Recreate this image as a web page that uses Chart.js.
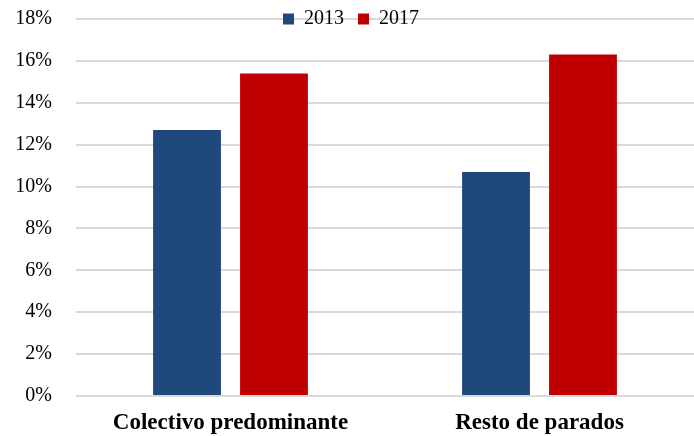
<!DOCTYPE html>
<html>
<head>
<meta charset="utf-8">
<script src="https://cdn.jsdelivr.net/npm/chart.js@4"></script>
<style>
  html, body { margin: 0; padding: 0; background: #fff; }
  #wrap { width: 694px; height: 436px; }
</style>
</head>
<body>
<div id="wrap"><canvas id="chart"></canvas></div>
<script>
// --- data ---
const categories = ['Colectivo predominante', 'Resto de parados'];
const series2013 = [12.7, 10.7];
const series2017 = [15.4, 16.3];
const yTicks = [0, 2, 4, 6, 8, 10, 12, 14, 16, 18];

const C = {
  blue: '#1f497d',
  red:  '#c00000',
  grid: '#d9d9d9',
  ink:  '#000000',
};

const serif = "'Liberation Serif', 'Times New Roman', serif";
const LEGEND_PAD = 14;

// The legend sits over the top of the plot (on the 18% line), so it takes
// no room in the layout; it gets its real box back just before drawing.
const legendOverlay = {
  id: 'legendOverlay',
  beforeLayout(chart){
    const lg = chart.legend;
    if (lg && !lg._overlay){
      const fit = lg.fit.bind(lg);
      lg.fit = function(){ fit(); this._realH = this.height; this.height = 0; };
      lg._overlay = true;
    }
  },
  afterLayout(chart){
    const lg = chart.legend;
    if (lg && lg._realH){
      lg.top = 19 - 10 - LEGEND_PAD;
      lg.height = lg._realH;
      lg.bottom = lg.top + lg._realH;
      lg.left += 4;
      lg.right += 4;
    }
  },
};

new Chart(document.getElementById('chart'), {
  type: 'bar',
  data: {
    labels: categories,
    datasets: [
      { label: '2013', data: series2013, backgroundColor: C.blue,
        categoryPercentage: 0.563, barPercentage: 0.78 },
      { label: '2017', data: series2017, backgroundColor: C.red,
        categoryPercentage: 0.563, barPercentage: 0.78 },
    ],
  },
  plugins: [legendOverlay],
  options: {
    responsive: true,
    maintainAspectRatio: false,
    animation: false,
    layout: { padding: { top: 19, right: 0, left: 0, bottom: 0 } },
    plugins: {
      tooltip: { enabled: false },
      legend: {
        position: 'top',
        align: 'center',
        labels: {
          color: C.ink,
          font: { family: serif, size: 20 },
          boxWidth: 11,
          boxHeight: 11,
          padding: LEGEND_PAD,
        },
      },
    },
    scales: {
      x: {
        grid: { display: false },
        border: { display: false },
        afterFit: s => { s.height = 40; },
        ticks: {
          color: C.ink,
          font: { family: serif, size: 23, weight: 'bold' },
          padding: 5,
        },
      },
      y: {
        min: 0,
        max: 18,
        afterBuildTicks: axis => { axis.ticks = yTicks.map(v => ({ value: v })); },
        afterFit: s => { s.width = 76; s.paddingTop = 0; s.paddingBottom = 0; },
        grid: { color: C.grid, lineWidth: 2, drawTicks: false },
        border: { display: false },
        ticks: {
          color: C.ink,
          font: { family: serif, size: 20 },
          padding: 24,
          callback: v => v + '%',
        },
      },
    },
  },
});
</script>
</body>
</html>
